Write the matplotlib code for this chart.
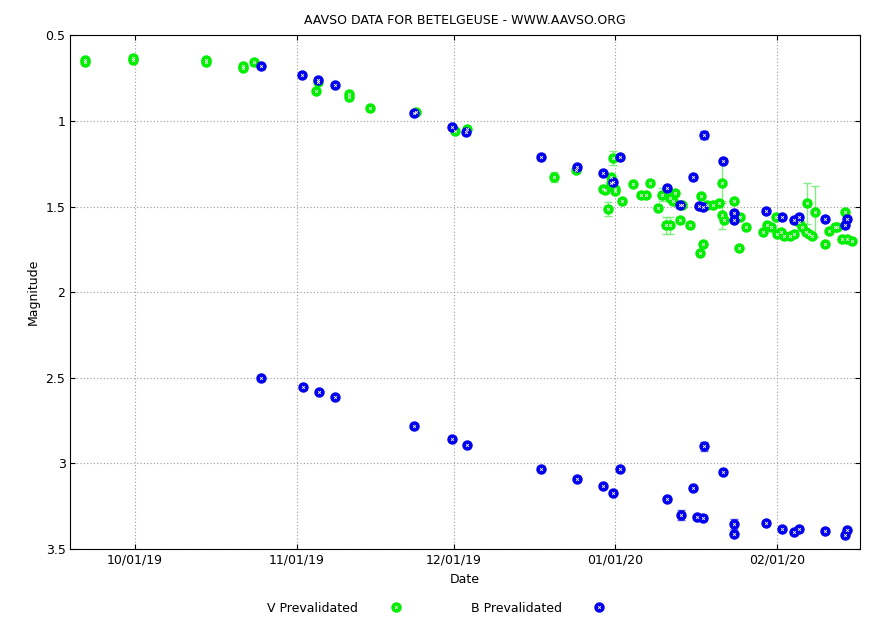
import matplotlib
matplotlib.use("Agg")
import matplotlib.pyplot as plt
from matplotlib.lines import Line2D

# days since 2019-10-01, magnitude
v_days = [-9.6, -9.6, -0.4, -0.4, 13.6, 13.6, 20.7, 20.7, 22.8, 34.6, 35.0, 40.9, 40.9, 45.0, 53.8, 61.2, 63.5,
          80.2, 84.4, 90.1, 90.5, 91.5, 89.6, 91.2, 91.2, 92.0, 92.0, 93.2, 95.3, 97.0, 97.9, 98.6, 100.1,
          100.9, 101.7, 102.5, 102.5, 103.1, 103.5, 104.4, 104.8, 106.3, 108.5, 108.7, 108.3, 109.6,
          110.8, 111.9, 112.5, 112.5, 112.9, 114.8, 115.8, 115.6, 117.1,
          120.2, 121.1, 121.9, 122.7, 123.0, 123.8, 124.4, 125.4, 126.3, 127.2, 127.7, 128.5, 129.1,
          128.7, 129.6, 130.2, 132.2, 133.0, 134.0, 134.5, 135.5, 135.9, 136.4, 137.4]
v_mag = [0.646, 0.658, 0.634, 0.646, 0.646, 0.658, 0.681, 0.693, 0.658, 0.827, 0.774, 0.845, 0.862, 0.926, 0.950, 1.060, 1.049,
         1.329, 1.288, 1.405, 1.516, 1.215, 1.40, 1.33, 1.36, 1.41, 1.40, 1.47, 1.37, 1.43, 1.43, 1.36, 1.51,
         1.43, 1.61, 1.61, 1.45, 1.47, 1.42, 1.58, 1.49, 1.61, 1.44, 1.72, 1.77, 1.49,
         1.49, 1.48, 1.36, 1.55, 1.58, 1.47, 1.56, 1.74, 1.62,
         1.65, 1.61, 1.62, 1.56, 1.66, 1.65, 1.67, 1.67, 1.66, 1.59, 1.62, 1.65, 1.66,
         1.48, 1.67, 1.53, 1.72, 1.64, 1.62, 1.62, 1.69, 1.53, 1.69, 1.70]
v_err = [0.01] * len(v_mag)
for i, e in [(17, 0.03), (20, 0.04), (21, 0.04), (33, 0.04), (34, 0.05), (35, 0.05), (48, 0.12), (49, 0.08), (68, 0.12), (70, 0.15)]:
    v_err[i] = e

b_days = [24.1, 31.9, 35.0, 38.3, 53.4, 60.7, 63.3, 77.7, 84.6, 89.7, 91.5, 92.8, 101.8, 104.3, 106.8, 108.1,
          108.7, 108.9, 112.7, 114.8, 114.8, 120.9, 124.0, 126.3, 127.2, 132.2, 135.9, 136.4,
          24.1, 32.1, 35.2, 38.3, 53.4, 60.7, 63.5, 77.7, 84.6, 89.7, 91.5, 92.8, 101.8, 104.5, 106.8, 107.7,
          108.7, 108.9, 112.7, 114.8, 114.8, 120.9, 124.0, 126.3, 127.2, 132.2, 135.9, 136.4]
b_mag = [0.681, 0.733, 0.762, 0.791, 0.955, 1.037, 1.066, 1.212, 1.271, 1.306, 1.358, 1.212, 1.393, 1.49, 1.329, 1.495,
         1.50, 1.083, 1.236, 1.535, 1.58, 1.527, 1.56, 1.58, 1.56, 1.57, 1.61, 1.57,
         2.50, 2.555, 2.58, 2.61, 2.78, 2.86, 2.89, 3.03, 3.09, 3.13, 3.175, 3.03, 3.21, 3.30, 3.145, 3.31,
         3.32, 2.90, 3.05, 3.355, 3.41, 3.345, 3.38, 3.40, 3.38, 3.395, 3.42, 3.39]
b_err = [0.01] * len(b_mag)
for i, e in [(17, 0.025), (45, 0.025), (41, 0.03), (47, 0.03), (13, 0.02)]:
    b_err[i] = e

tick_days = [0, 31, 61, 92, 123]
tick_labels = ["10/01/19", "11/01/19", "12/01/19", "01/01/20", "02/01/20"]

fig = plt.figure(figsize=(8.79, 6.29), dpi=100)
ax = fig.add_axes([0.080, 0.127, 0.898, 0.817])

def draw(x, y, err, color, ecol):
    ax.errorbar(x, y, yerr=err, fmt='none', ecolor=ecol, elinewidth=1, capsize=3, zorder=2)
    ax.plot(x, y, 'o', color=color, ms=6.5, mec=color, zorder=3, ls='none')
    ax.plot(x, y, 'x', color='white', ms=2, mew=0.6, zorder=4, ls='none')

draw(v_days, v_mag, v_err, '#00ee00', '#80ee80')
draw(b_days, b_mag, b_err, '#0000ee', '#6060ee')

ax.set_xlim(-12.4, 138.8)
ax.set_ylim(3.5, 0.5)
ax.set_xticks(tick_days)
ax.set_xticklabels(tick_labels)
ax.set_yticks([0.5, 1, 1.5, 2, 2.5, 3, 3.5])
ax.set_yticklabels(["0.5", "1", "1.5", "2", "2.5", "3", "3.5"])
ax.grid(True, color='#999999', linestyle=(0, (1, 2)), linewidth=0.8)
ax.tick_params(direction='in', labelsize=9, top=True, right=True)
ax.set_xlabel("Date", fontsize=9)
ax.set_ylabel("Magnitude", fontsize=9)
ax.set_title("AAVSO DATA FOR BETELGEUSE - WWW.AAVSO.ORG", fontsize=9, pad=8)

def h(c):
    return (Line2D([], [], marker='o', color=c, ms=6.5, ls='none'),
            Line2D([], [], marker='x', color='white', ms=2, mew=0.6, ls='none'))
fig.legend([h('#00ee00'), h('#0000ee')], ["V Prevalidated", "B Prevalidated"],
           loc='lower center', bbox_to_anchor=(0.5, 0.005), ncol=2, frameon=False,
           fontsize=9, markerfirst=False, columnspacing=5, handletextpad=2)
fig.savefig("out.png", dpi=100)
